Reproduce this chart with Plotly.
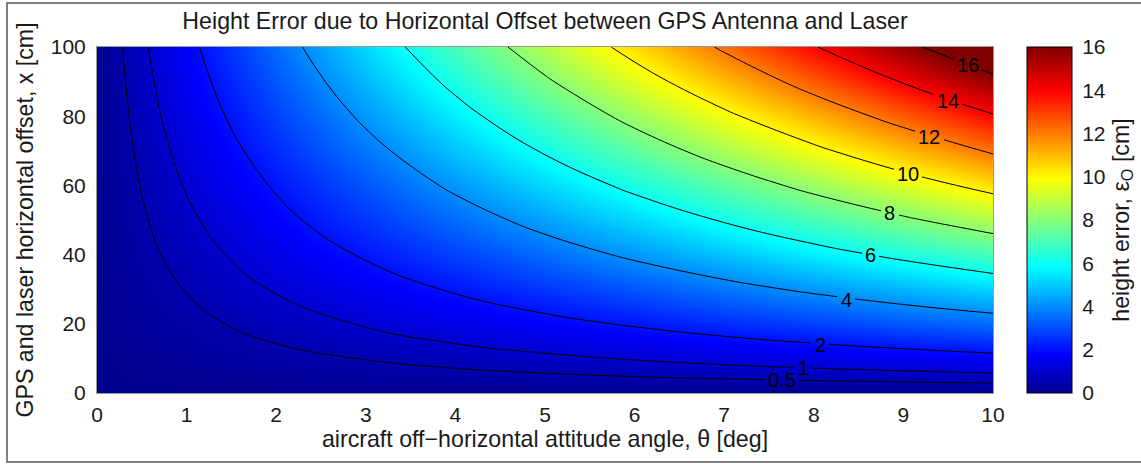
import plotly.graph_objects as go

# Attitude angle theta [deg] (columns) and horizontal offset x [cm] (rows)
theta_deg = [0, 1, 2, 3, 4, 5, 6, 7, 8, 9, 10]
offset_cm = [0, 10, 20, 30, 40, 50, 60, 70, 80, 90, 100]

# Height error epsilon_O [cm] on the (offset, angle) grid
height_error_cm = [
    [0, 0.00, 0.00, 0.00, 0.00, 0.00, 0.00, 0.00, 0.00, 0.00, 0.00],
    [0, 0.17, 0.35, 0.52, 0.70, 0.87, 1.05, 1.22, 1.39, 1.56, 1.74],
    [0, 0.35, 0.70, 1.05, 1.40, 1.74, 2.09, 2.44, 2.78, 3.13, 3.47],
    [0, 0.52, 1.05, 1.57, 2.09, 2.62, 3.14, 3.66, 4.18, 4.69, 5.21],
    [0, 0.70, 1.40, 2.09, 2.79, 3.49, 4.18, 4.87, 5.57, 6.26, 6.95],
    [0, 0.87, 1.75, 2.62, 3.49, 4.36, 5.23, 6.09, 6.96, 7.82, 8.68],
    [0, 1.05, 2.09, 3.14, 4.19, 5.23, 6.27, 7.31, 8.35, 9.39, 10.42],
    [0, 1.22, 2.44, 3.66, 4.88, 6.10, 7.32, 8.53, 9.74, 10.95, 12.16],
    [0, 1.40, 2.79, 4.19, 5.58, 6.97, 8.36, 9.75, 11.13, 12.51, 13.89],
    [0, 1.57, 3.14, 4.71, 6.28, 7.84, 9.41, 10.97, 12.53, 14.08, 15.63],
    [0, 1.75, 3.49, 5.23, 6.98, 8.72, 10.45, 12.19, 13.92, 15.64, 17.36],
]

# contour levels that are drawn and labelled
fine_levels = [0.5, 1]
coarse_levels = [2, 4, 6, 8, 10, 12, 14, 16]
# where each level's label sits (theta [deg], x [cm])
label_theta = [7.65, 7.88, 8.07, 8.36, 8.63, 8.85, 9.05, 9.29, 9.50, 9.72]
label_x = [3.8, 7.2, 13.9, 26.9, 39.9, 52.0, 63.3, 74.0, 84.4, 94.8]

x_ticks = [0, 1, 2, 3, 4, 5, 6, 7, 8, 9, 10]
y_ticks = [0, 20, 40, 60, 80, 100]
cbar_ticks = [0, 2, 4, 6, 8, 10, 12, 14, 16]

FONT = "Liberation Sans, Arial, Helvetica, sans-serif"
TXT = "#1a1a1a"
TITLE_SIZE = 23.2
TICK_SIZE = 21
LABEL_SIZE = 20

# MATLAB-style jet colour map
jet = [
    [0.000, "rgb(0,0,143)"],
    [0.111, "rgb(0,0,255)"],
    [0.365, "rgb(0,255,255)"],
    [0.619, "rgb(255,255,0)"],
    [0.873, "rgb(255,0,0)"],
    [1.000, "rgb(128,0,0)"],
]
CMIN, CMAX = 0, 16

W, H = 1141, 464
ML, MR, MT, MB = 97, 148, 47, 71
PW, PH = W - ML - MR, H - MT - MB
X0, X1 = 0, 10
Y0, Y1 = 0, 100

# colour bar geometry (pixels)
CB_LEFT, CB_THICK = 1027, 45

fig = go.Figure()

fill_style = dict(zsmooth="best", zmin=CMIN, zmax=CMAX, colorscale=jet, hoverinfo="skip")

# smooth colour fill
fig.add_trace(go.Heatmap(
    x=theta_deg, y=offset_cm, z=height_error_cm, **fill_style,
    colorbar=dict(
        x=(CB_LEFT - ML) / PW, xanchor="left", xpad=0,
        y=0.5, yanchor="middle", ypad=0, len=1, lenmode="fraction",
        thickness=CB_THICK, outlinewidth=1, outlinecolor="black",
        tickvals=cbar_ticks, ticks="outside", ticklen=6, tickcolor="rgba(0,0,0,0)",
        tickfont=dict(family=FONT, size=TICK_SIZE, color=TXT),
        title=dict(text="height error, ε<sub>O</sub> [cm]", side="right",
                   font=dict(family=FONT, size=TITLE_SIZE, color=TXT)),
    ),
))

# contour lines
line_style = dict(color="black", width=1, smoothing=1.3)
for levels in (fine_levels, coarse_levels):
    fig.add_trace(go.Contour(
        x=theta_deg, y=offset_cm, z=height_error_cm,
        autocontour=False,
        contours=dict(start=levels[0], end=levels[-1],
                      size=(levels[1] - levels[0]), coloring="none", showlabels=False),
        line=line_style, showscale=False, showlegend=False, hoverinfo="skip",
    ))

# contour labels: each label breaks its line by repainting the fill in a small
# pixel-aligned window (its own tiny subplot) and writing the level value on top
annotations = []
extra_axes = {}
for i, (lev, th, xv) in enumerate(zip(fine_levels + coarse_levels, label_theta, label_x)):
    text = f"{lev:g}"
    w_px = sum(11.2 if c.isdigit() else 5.6 for c in text) + 6
    h_px = 18
    cx = (th - X0) / (X1 - X0) * PW
    cy = (xv - Y0) / (Y1 - Y0) * PH
    left, right = round(cx - w_px / 2), round(cx + w_px / 2)
    bottom, top = round(cy - h_px / 2), round(cy + h_px / 2)
    fx0, fx1 = left / PW, right / PW
    fy0, fy1 = bottom / PH, top / PH
    n = i + 2
    extra_axes[f"xaxis{n}"] = dict(domain=[fx0, fx1],
                                   range=[X0 + fx0 * (X1 - X0), X0 + fx1 * (X1 - X0)],
                                   visible=False, anchor=f"y{n}", fixedrange=True)
    extra_axes[f"yaxis{n}"] = dict(domain=[fy0, fy1],
                                   range=[Y0 + fy0 * (Y1 - Y0), Y0 + fy1 * (Y1 - Y0)],
                                   visible=False, anchor=f"x{n}", fixedrange=True)
    fig.add_trace(go.Heatmap(
        x=theta_deg, y=offset_cm, z=height_error_cm, **fill_style,
        showscale=False, xaxis=f"x{n}", yaxis=f"y{n}",
    ))
    annotations.append(dict(
        x=th, y=xv, xref="x", yref="y", text=text, showarrow=False,
        xanchor="center", yanchor="middle",
        font=dict(family=FONT, size=LABEL_SIZE, color="black"),
    ))

# short inner tick marks on both edges of the colour bar
shapes = []
cb_x0 = (CB_LEFT - ML) / PW
cb_x1 = (CB_LEFT + CB_THICK - ML) / PW
tick_w = 4 / PW
for v in cbar_ticks[1:-1]:
    fy = (v - CMIN) / (CMAX - CMIN)
    for a, b in ((cb_x0, cb_x0 + tick_w), (cb_x1 - tick_w, cb_x1)):
        shapes.append(dict(type="line", xref="paper", yref="paper",
                           x0=a, x1=b, y0=fy, y1=fy,
                           line=dict(color="black", width=1)))

# thin frame around the whole figure
shapes.append(dict(
    type="rect", xref="paper", yref="paper",
    x0=(7 - ML) / PW, x1=(W + 10 - ML) / PW,
    y0=(H - MB - 462) / PH, y1=(H - MB - 3) / PH,
    line=dict(color="#555", width=1.5), fillcolor="rgba(0,0,0,0)", layer="below",
))

fig.update_layout(
    width=W, height=H,
    margin=dict(l=ML, r=MR, t=MT, b=MB, autoexpand=False),
    paper_bgcolor="white", plot_bgcolor="rgba(0,0,0,0)",
    showlegend=False,
    font=dict(family=FONT, size=18, color=TXT),
    title=dict(text="Height Error due to Horizontal Offset between GPS Antenna and Laser",
               x=0.5, xref="paper", xanchor="center",
               y=1 - 21 / H, yref="container", yanchor="middle",
               font=dict(family=FONT, size=TITLE_SIZE, color=TXT)),
    xaxis=dict(range=[X0, X1], tickvals=x_ticks, ticks="", showgrid=False,
               zeroline=False, showline=True, linecolor="#999", linewidth=1, mirror=True,
               tickfont=dict(family=FONT, size=TICK_SIZE, color=TXT), ticklabelstandoff=3,
               title=dict(text="aircraft off−horizontal attitude angle, θ [deg]",
                          standoff=4, font=dict(family=FONT, size=TITLE_SIZE, color=TXT))),
    yaxis=dict(range=[Y0, Y1], tickvals=y_ticks, ticks="", showgrid=False,
               zeroline=False, showline=True, linecolor="#999", linewidth=1, mirror=True,
               tickfont=dict(family=FONT, size=TICK_SIZE, color=TXT), ticklabelstandoff=6,
               title=dict(text="GPS and laser horizontal offset, x [cm]",
                          standoff=10, font=dict(family=FONT, size=TITLE_SIZE, color=TXT))),
    annotations=annotations,
    shapes=shapes,
    **extra_axes,
)

fig.write_html("out.html")
